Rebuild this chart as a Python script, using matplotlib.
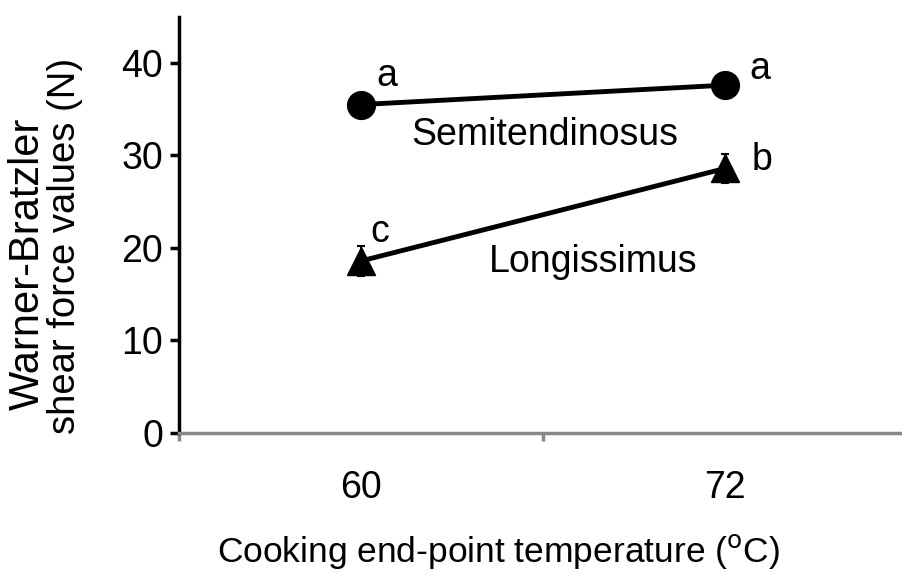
import numpy as np
import matplotlib.pyplot as plt

plt.rcParams['font.family'] = ['Liberation Sans', 'DejaVu Sans']

temps = ['60', '72']
semitendinosus = [35.5, 37.6]
longissimus = [18.6, 28.6]
longissimus_err = [1.6, 1.6]
semi_letters = ['a', 'a']
long_letters = ['c', 'b']

x = np.arange(len(temps))
fs = 27

fig = plt.figure(figsize=(9.02, 5.77), dpi=100)
ax = fig.add_axes([0.1988, 0.2496, 0.807, 0.7215])

ax.plot(x, semitendinosus, 'k-', marker='o', markersize=20, linewidth=3.5)
ax.errorbar(x, longissimus, yerr=longissimus_err, fmt='k-', marker='^', markersize=20,
            linewidth=3.5, elinewidth=1.5, capsize=3, capthick=1.5)

# significance letters (baseline anchored)
ax.text(x[0] + 0.069, 37.5, semi_letters[0], fontsize=fs, ha='center', va='baseline')
ax.text(x[1] + 0.094, 38.3, semi_letters[1], fontsize=fs, ha='center', va='baseline')
ax.text(x[0] + 0.05, 20.6, long_letters[0], fontsize=fs, ha='center', va='baseline')
ax.text(x[1] + 0.10, 28.4, long_letters[1], fontsize=fs, ha='center', va='baseline')

# series names
ax.text(0.503, 31.1, 'Semitendinosus', fontsize=fs, ha='center', va='baseline')
ax.text(0.638, 17.4, 'Longissimus', fontsize=fs, ha='center', va='baseline')

ax.set_xlim(-0.5, 1.5)
ax.set_ylim(0, 45)
ax.set_yticks([0, 10, 20, 30, 40])
ax.set_xticks(x)
ax.set_xticklabels(temps)
ax.set_xticks([-0.5, 0.5, 1.5], minor=True)

ax.tick_params(axis='y', direction='out', length=6.5, width=2.5, labelsize=fs, color='k', pad=5)
ax.tick_params(axis='x', which='major', length=0, labelsize=fs, pad=27)
ax.tick_params(axis='x', which='minor', direction='out', length=6, width=2.5, color='#888888')

for side in ['top', 'right']:
    ax.spines[side].set_visible(False)
ax.spines['left'].set_linewidth(2.5)
ax.spines['left'].set_color('k')
ax.spines['bottom'].set_linewidth(2.5)
ax.spines['bottom'].set_color('#888888')

# two-line y label, lines placed separately as in the original
fig.text(0.031, 0.543, 'Warner-Bratzler', fontsize=30, rotation=90, ha='center', va='center')
fig.text(0.072, 0.573, 'shear force values (N)', fontsize=27.5, rotation=90, ha='center', va='center')

ax.set_xlabel('Cooking end-point temperature ($^{\\mathrm{o}}$C)', fontsize=25.5)
ax.xaxis.set_label_coords(0.438, -0.284)
ax.xaxis.label.set_va('center')

plt.savefig('out.png', dpi=100)
